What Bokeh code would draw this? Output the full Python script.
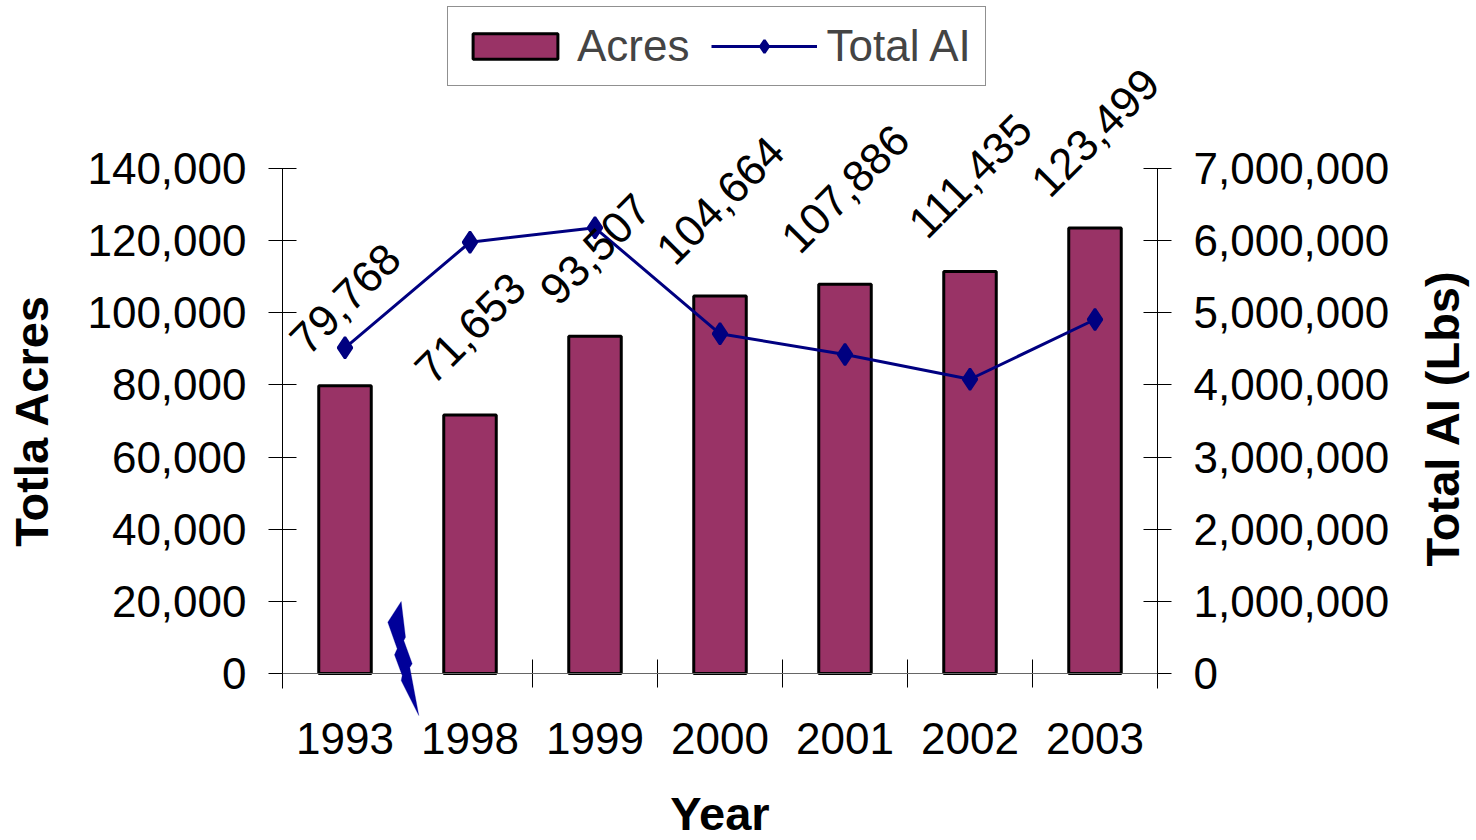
import math
from bokeh.plotting import figure
from bokeh.layouts import row
from bokeh.models import (Range1d, LinearAxis, FixedTicker, Span, Label,
                          NumeralTickFormatter, ColumnDataSource, LabelSet, Legend,
                          LegendItem, PolyAnnotation)
from bokeh.core.properties import value
from bokeh.embed import file_html
from bokeh.resources import INLINE

# ---------------- data ----------------
years = ["1993", "1998", "1999", "2000", "2001", "2002", "2003"]
acres = [79768, 71653, 93507, 104664, 107886, 111435, 123499]
total_ai = [4515000, 5978000, 6178000, 4709000, 4422000, 4079000, 4907000]
acres_ticks = [0, 20000, 40000, 60000, 80000, 100000, 120000, 140000]
ai_ticks = [0, 1000000, 2000000, 3000000, 4000000, 5000000, 6000000, 7000000]

# ---------------- style / layout ----------------
FONT = "Liberation Sans"
TICK_FS = "44px"
TITLE_FS = "47px"
BAR_COLOR = "#993366"
LINE_COLOR = "#000080"
BOLT_COLOR = "#000099"

W, H = 1414, 840            # main canvas
W2 = 56                     # strip holding the right-axis title
FRAME_L, FRAME_W = 282, 875  # frame spans full canvas height
PX_ZERO, PX_TOP = 673, 168   # canvas y of value 0 and of the top tick
ACRES_MAX = acres_ticks[-1]
AI_MAX = ai_ticks[-1]
k = ACRES_MAX / (PX_ZERO - PX_TOP)          # acres per pixel
y_top = ACRES_MAX + PX_TOP * k
y_bot = -(H - PX_ZERO) * k
ratio = AI_MAX / ACRES_MAX

n = len(years)
xpos = [i + 0.5 for i in range(n)]          # category centres
bounds = list(range(n + 1))                  # category boundaries
px_per_cat = FRAME_W / n
acres_labels = [f"{v:,}" for v in acres]


def label_offset(s, fs=44.0, gap=24.0):
    w = sum(0.278 * fs if ch == "," else 0.556 * fs for ch in s)
    return gap + (w + fs) / (2 * math.sqrt(2))


src = ColumnDataSource(dict(x=xpos, acres=acres, ai=total_ai, year=years,
                            lab=acres_labels,
                            off=[label_offset(s) for s in acres_labels]))

p = figure(x_range=Range1d(0, n), y_range=Range1d(y_bot, y_top),
           frame_width=FRAME_W, frame_height=H,
           min_border_left=FRAME_L, min_border_right=W - FRAME_L - FRAME_W,
           min_border_top=0, min_border_bottom=0,
           x_axis_location=None, y_axis_location=None,
           toolbar_location=None, output_backend="svg",
           outline_line_color=None, background_fill_color="white",
           border_fill_color="white")
p.extra_y_ranges = {"ai": Range1d(y_bot * ratio, y_top * ratio)}
for g in p.grid:
    g.visible = False


def style_y(ax):
    ax.axis_line_color = "black"
    ax.axis_line_width = 1
    ax.major_tick_line_color = "black"
    ax.major_tick_in = 14
    ax.major_tick_out = 14
    ax.minor_tick_line_color = None
    ax.major_label_text_font = FONT
    ax.major_label_text_font_size = TICK_FS
    ax.major_label_text_color = "black"
    ax.major_label_standoff = 22
    ax.axis_label_text_font = FONT
    ax.axis_label_text_font_size = TITLE_FS
    ax.axis_label_text_font_style = "bold"
    ax.axis_label_text_color = "black"


ext = 15 * k   # axis line runs 15px below zero
yl = LinearAxis(ticker=FixedTicker(ticks=acres_ticks), bounds=(-ext, ACRES_MAX),
                formatter=NumeralTickFormatter(format="0,0"),
                axis_label="Totla Acres")
style_y(yl)
yl.axis_label_standoff = 26
p.add_layout(yl, "left")

yr = LinearAxis(y_range_name="ai", ticker=FixedTicker(ticks=ai_ticks),
                bounds=(-ext * ratio, AI_MAX),
                formatter=NumeralTickFormatter(format="0,0"))
style_y(yr)
p.add_layout(yr, "right")

# x axis line and category-boundary ticks
p.add_layout(Span(location=0, dimension="width", line_color="#666666", line_width=1))
p.scatter(x=bounds, y=[0] * len(bounds), marker="dash", angle=math.pi / 2, size=28,
          line_color="black", line_width=1)

# category labels and axis title
cat_labels = LabelSet(x="x", y=0, text="year", source=src, y_offset=-49,
                      text_align="center", text_baseline="top",
                      text_font=value(FONT), text_font_size=TICK_FS, text_color="black")
p.add_layout(cat_labels)
p.add_layout(Label(x=n / 2, y=0, y_offset=-113, text="Year",
                   text_align="center", text_baseline="top",
                   text_font=FONT, text_font_size=TITLE_FS,
                   text_font_style="bold", text_color="black"))

bars = p.vbar(x="x", top="acres", width=0.42, bottom=0, source=src,
              fill_color=BAR_COLOR, line_color="black", line_width=3)
line = p.line(x="x", y="ai", y_range_name="ai", source=src,
              line_color=LINE_COLOR, line_width=3)
pts = p.scatter(x="x", y="ai", y_range_name="ai", source=src,
                marker="diamond", size=21, line_width=2.5,
                fill_color=LINE_COLOR, line_color=LINE_COLOR)

labels = LabelSet(x="x", y="acres", text="lab", source=src,
                  angle=math.pi / 4, text_align="center", text_baseline="middle",
                  y_offset="off", text_font=value(FONT), text_font_size=TICK_FS,
                  text_color="black")
p.add_layout(labels)

# axis-break lightning bolt between the 1st and 2nd category (pixel offsets)
bolt_px_dx = [-6.3, -2.0, -3.7, 4.7, 2.3, 11.3, -6.3, -5.3, -13.0, -10.3, -19.7]
bolt_px_dy = [72.0, 36.3, 33.0, 9.7, 6.0, -42.0, -7.0, -2.0, 18.7, 24.7, 51.3]
bolt = PolyAnnotation(xs=[bounds[1] + d / px_per_cat for d in bolt_px_dx],
                      ys=[d * k for d in bolt_px_dy],
                      fill_color=BOLT_COLOR, fill_alpha=1.0,
                      line_color=BOLT_COLOR, line_width=1)
p.add_layout(bolt)

legend = Legend(items=[LegendItem(label="Acres", renderers=[bars]),
                       LegendItem(label="Total AI", renderers=[line, pts])],
                orientation="horizontal", location=(447 - FRAME_L, H - 86),
                glyph_width=106, glyph_height=32, label_standoff=9,
                spacing=22, padding=14, margin=0,
                label_text_font=FONT, label_text_font_size=TICK_FS,
                border_line_color="#222222", border_line_width=1,
                background_fill_color="white", background_fill_alpha=1.0)
p.add_layout(legend)

# right-axis title, reading bottom to top, centred on the axis
p2 = figure(x_range=Range1d(0, W2), y_range=Range1d(y_bot, y_top),
            frame_width=W2, frame_height=H,
            min_border_left=0, min_border_right=0, min_border_top=0, min_border_bottom=0,
            x_axis_location=None, y_axis_location=None,
            toolbar_location=None, output_backend="svg",
            outline_line_color=None, background_fill_color="white",
            border_fill_color="white")
for g in p2.grid:
    g.visible = False
p2.add_layout(Label(x=W2 / 2, y=ACRES_MAX / 2, y_offset=3, text="Total AI (Lbs)",
                    angle=math.pi / 2, text_align="center", text_baseline="middle",
                    text_font=FONT, text_font_size=TITLE_FS,
                    text_font_style="bold", text_color="black"))

layout = row(p, p2, spacing=0)
open("out.html", "w").write(file_html(layout, INLINE))
